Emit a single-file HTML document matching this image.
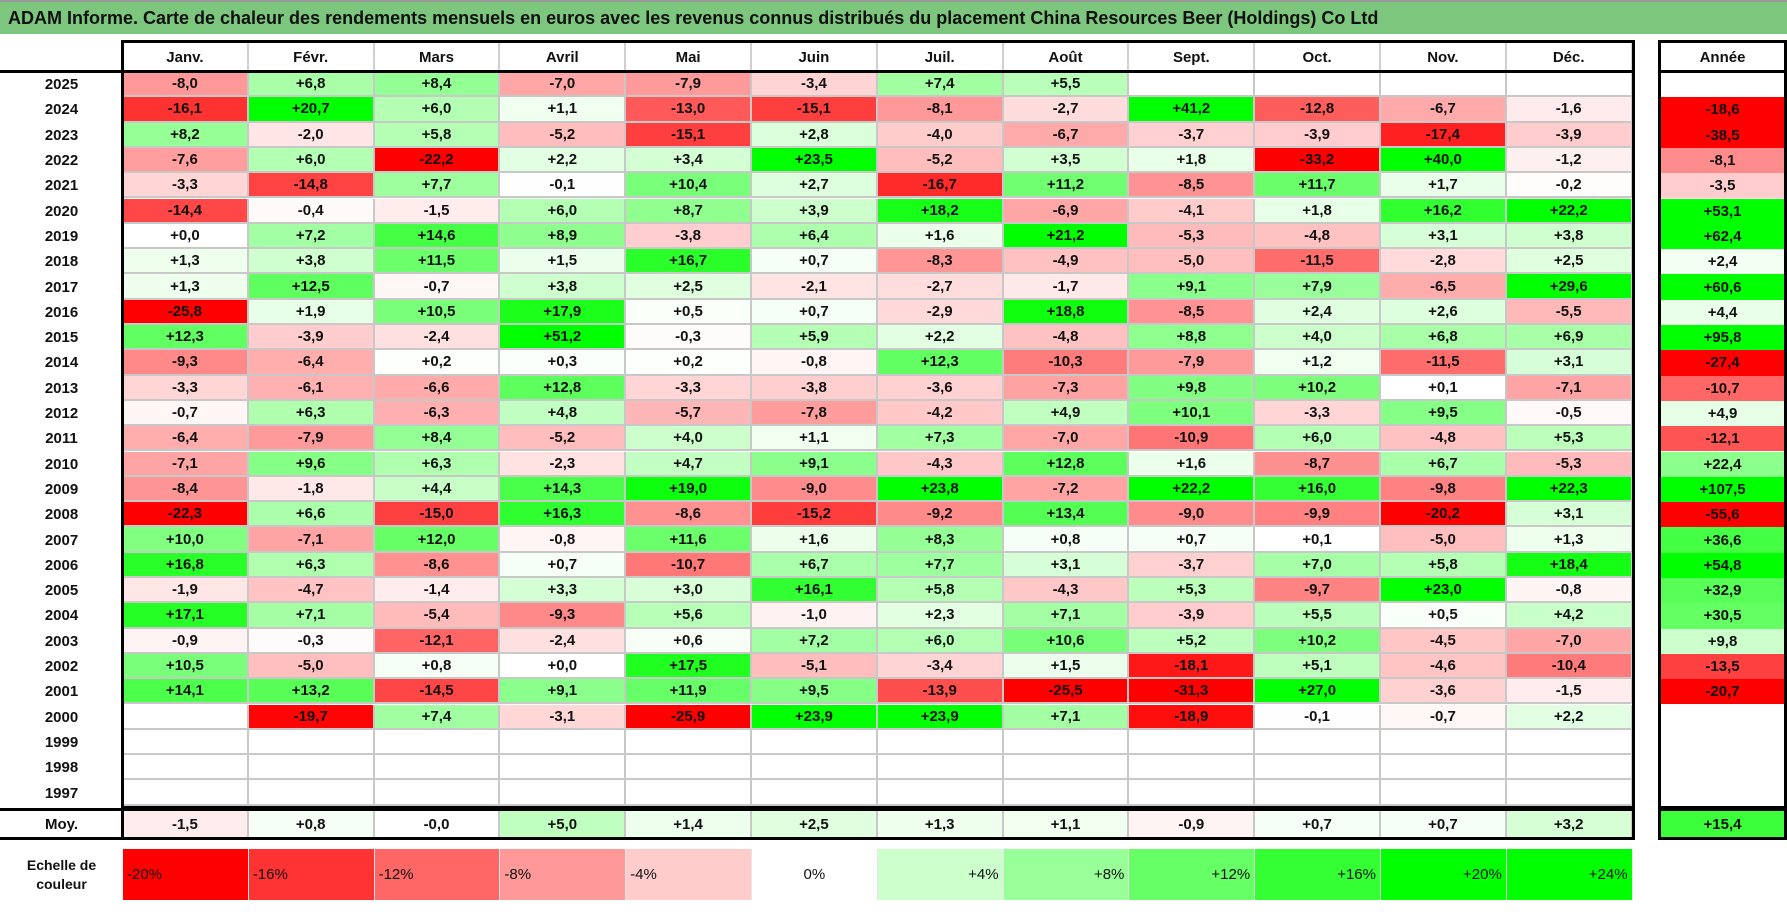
<!DOCTYPE html>
<html><head><meta charset="utf-8">
<style>
body{margin:0;width:1787px;height:912px;background:#fff;position:relative;overflow:hidden;font-family:"Liberation Sans",sans-serif;}
.c{position:absolute;box-sizing:border-box;display:flex;align-items:center;justify-content:center;font-weight:bold;font-size:15px;color:#111;}
.b{position:absolute;box-sizing:border-box;}
</style></head><body>
<div class="b" style="left:0;top:0;width:1787px;height:34px;background:#7dc67e;border-top:2px solid #999;"></div>
<div class="c" style="left:8px;top:2px;height:32px;justify-content:flex-start;font-size:18px;color:#111;white-space:nowrap;">ADAM Informe. Carte de chaleur des rendements mensuels en euros avec les revenus connus distribués du placement China Resources Beer (Holdings) Co Ltd</div>
<div id="root"></div>
<script>
const months=["Janv.","Févr.","Mars","Avril","Mai","Juin","Juil.","Août","Sept.","Oct.","Nov.","Déc."];
const years=[2025,2024,2023,2022,2021,2020,2019,2018,2017,2016,2015,2014,2013,2012,2011,2010,2009,2008,2007,2006,2005,2004,2003,2002,2001,2000,1999,1998,1997];
const N=null;
const monthly=[
[-8.0,6.8,8.4,-7.0,-7.9,-3.4,7.4,5.5,N,N,N,N],
[-16.1,20.7,6.0,1.1,-13.0,-15.1,-8.1,-2.7,41.2,-12.8,-6.7,-1.6],
[8.2,-2.0,5.8,-5.2,-15.1,2.8,-4.0,-6.7,-3.7,-3.9,-17.4,-3.9],
[-7.6,6.0,-22.2,2.2,3.4,23.5,-5.2,3.5,1.8,-33.2,40.0,-1.2],
[-3.3,-14.8,7.7,-0.1,10.4,2.7,-16.7,11.2,-8.5,11.7,1.7,-0.2],
[-14.4,-0.4,-1.5,6.0,8.7,3.9,18.2,-6.9,-4.1,1.8,16.2,22.2],
[0.0,7.2,14.6,8.9,-3.8,6.4,1.6,21.2,-5.3,-4.8,3.1,3.8],
[1.3,3.8,11.5,1.5,16.7,0.7,-8.3,-4.9,-5.0,-11.5,-2.8,2.5],
[1.3,12.5,-0.7,3.8,2.5,-2.1,-2.7,-1.7,9.1,7.9,-6.5,29.6],
[-25.8,1.9,10.5,17.9,0.5,0.7,-2.9,18.8,-8.5,2.4,2.6,-5.5],
[12.3,-3.9,-2.4,51.2,-0.3,5.9,2.2,-4.8,8.8,4.0,6.8,6.9],
[-9.3,-6.4,0.2,0.3,0.2,-0.8,12.3,-10.3,-7.9,1.2,-11.5,3.1],
[-3.3,-6.1,-6.6,12.8,-3.3,-3.8,-3.6,-7.3,9.8,10.2,0.1,-7.1],
[-0.7,6.3,-6.3,4.8,-5.7,-7.8,-4.2,4.9,10.1,-3.3,9.5,-0.5],
[-6.4,-7.9,8.4,-5.2,4.0,1.1,7.3,-7.0,-10.9,6.0,-4.8,5.3],
[-7.1,9.6,6.3,-2.3,4.7,9.1,-4.3,12.8,1.6,-8.7,6.7,-5.3],
[-8.4,-1.8,4.4,14.3,19.0,-9.0,23.8,-7.2,22.2,16.0,-9.8,22.3],
[-22.3,6.6,-15.0,16.3,-8.6,-15.2,-9.2,13.4,-9.0,-9.9,-20.2,3.1],
[10.0,-7.1,12.0,-0.8,11.6,1.6,8.3,0.8,0.7,0.1,-5.0,1.3],
[16.8,6.3,-8.6,0.7,-10.7,6.7,7.7,3.1,-3.7,7.0,5.8,18.4],
[-1.9,-4.7,-1.4,3.3,3.0,16.1,5.8,-4.3,5.3,-9.7,23.0,-0.8],
[17.1,7.1,-5.4,-9.3,5.6,-1.0,2.3,7.1,-3.9,5.5,0.5,4.2],
[-0.9,-0.3,-12.1,-2.4,0.6,7.2,6.0,10.6,5.2,10.2,-4.5,-7.0],
[10.5,-5.0,0.8,0.0,17.5,-5.1,-3.4,1.5,-18.1,5.1,-4.6,-10.4],
[14.1,13.2,-14.5,9.1,11.9,9.5,-13.9,-25.5,-31.3,27.0,-3.6,-1.5],
[N,-19.7,7.4,-3.1,-25.9,23.9,23.9,7.1,-18.9,-0.1,-0.7,2.2],
[N,N,N,N,N,N,N,N,N,N,N,N],
[N,N,N,N,N,N,N,N,N,N,N,N],
[N,N,N,N,N,N,N,N,N,N,N,N]];
const yearly=[N,-18.6,-38.5,-8.1,-3.5,53.1,62.4,2.4,60.6,4.4,95.8,-27.4,-10.7,4.9,-12.1,22.4,107.5,-55.6,36.6,54.8,32.9,30.5,9.8,-13.5,-20.7,N,N,N,N];
const avgMonthly=[-1.5,0.8,-0.0,5.0,1.4,2.5,1.3,1.1,-0.9,0.7,0.7,3.2];
const avgYear=15.4;
const scaleVals=[-20,-16,-12,-8,-4,0,4,8,12,16,20,24];

const X0=123,CW=125.8,Y0=72,RH=25.3,YX=1660,YW=125,HY=42;
const root=document.getElementById('root');
function colX(i){return X0+i*CW;}
function rowY(r){return Y0+r*RH;}
function color(v,neg,pos){
  if(v===null)return '#fff';
  if(v<0){const t=Math.min(1,-v/neg);const g=Math.round(255*(1-t));return `rgb(255,${g},${g})`;}
  const t=Math.min(1,v/pos);const g=Math.round(255*(1-t));return `rgb(${g},255,${g})`;
}
function fmt(v){if(v===null)return '';const s=Math.abs(v).toFixed(1).replace('.',',');return (v<0||Object.is(v,-0)?'-':'+')+s;}
function box(x,y,w,h,style,text,name,cls){
  const d=document.createElement('div');
  d.className=cls||'c';
  d.style.cssText=`left:${x}px;top:${y}px;width:${w}px;height:${h}px;`+(style||'');
  if(text!==undefined)d.textContent=text;
  
  
  root.appendChild(d);return d;
}
const grid='border-right:2px solid #c8c8c8;border-bottom:2px solid #c8c8c8;';
// header
months.forEach((m,i)=>{box(colX(i),HY,CW,Y0-HY,'border-right:2px solid #d0d0d0;',m,'month-header');});
box(YX,HY,YW,Y0-HY,'','Année','year-header');
// rows
years.forEach((y,r)=>{
  box(0,rowY(r),X0,RH,'',String(y),'year-label');
  monthly[r].forEach((v,i)=>{box(colX(i),rowY(r),CW,RH,'background:'+color(v,20,20)+';'+grid,fmt(v),'heatmap-cell');});
  box(YX,rowY(r),YW,RH,'background:'+color(yearly[r],18,50)+';',fmt(yearly[r]),'annual-cell');
});
// avg row
const MY=810,MH=28;
box(0,MY,X0,MH,'','Moy.','average-label');
avgMonthly.forEach((v,i)=>{box(colX(i),MY,CW,MH,'background:'+color(v,20,20)+';'+'border-right:2px solid #c8c8c8;',fmt(v),'average-cell');});
box(YX,MY,YW,MH,'background:'+color(avgYear,20,20)+';',fmt(avgYear),'average-annual-cell');
// borders
box(X0-2,HY-2,12*CW+4,Y0-HY+RH*29+5,'border:3px solid #000;',undefined,'month-block-border','b');
box(0,Y0-2,X0,3,'background:#000;',undefined,'header-rule','b');
box(YX-2,HY-2,YW+4,Y0-HY+RH*29+5,'border:3px solid #000;',undefined,'year-block-border','b');
box(YX,Y0-2,YW,3,'background:#000;',undefined,'year-header-rule','b');
box(X0,Y0-2,12*CW,3,'background:#000;',undefined,'month-header-rule','b');
box(0,MY-2,X0+12*CW+2,MH+4,'border:3px solid #000;border-left:none;',undefined,'average-border','b');
box(X0-2,MY-2,3,MH+4,'background:#000;',undefined,'average-left-rule','b');
box(YX-2,MY-2,YW+4,MH+4,'border:3px solid #000;',undefined,'average-year-border','b');
// scale
const SY=849,SH=51;
box(0,SY,X0,SH,'flex-direction:column;font-size:14px;line-height:19px;','', 'scale-label').innerHTML='<span>Echelle de</span><span>couleur</span>';
scaleVals.forEach((v,i)=>{
  const just=v<0?'flex-start':(v===0?'center':'flex-end');
  box(colX(i),SY,CW,SH,'background:'+color(v,20,20)+';justify-content:'+just+';padding:0 4px;font-weight:normal;border-right:1px solid #e6e6e6;',(v>0?'+':'')+v+'%','scale-cell');
});
</script>
</body></html>
